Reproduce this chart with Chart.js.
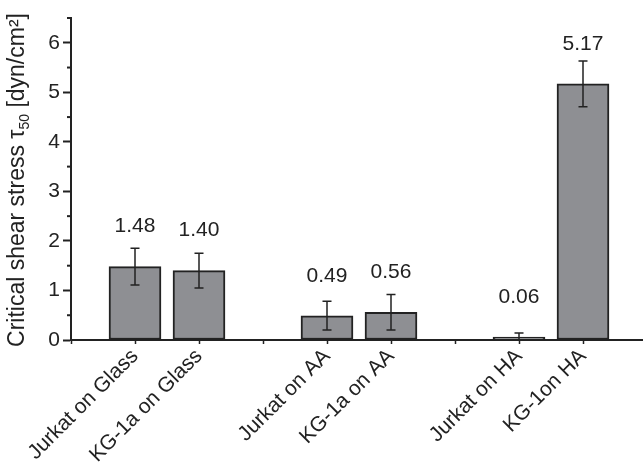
<!DOCTYPE html>
<html>
<head>
<meta charset="utf-8">
<script src="https://cdn.jsdelivr.net/npm/chart.js@4"></script>
<style>
  html, body { margin: 0; padding: 0; background: #fff; }
</style>
</head>
<body>
<canvas id="chart" width="643" height="466"></canvas>
<script>
// ---- data ----
const categories = ['Jurkat on Glass', 'KG-1a on Glass', 'Jurkat on AA', 'KG-1a on AA', 'Jurkat on HA', 'KG-1on HA'];
const groupOf = [0, 0, 1, 1, 2, 2];          // substrate group of each bar
const values = [1.48, 1.40, 0.49, 0.56, 0.06, 5.17];
const errors = [0.37, 0.35, 0.29, 0.36, 0.08, 0.46];
const valueLabels = ['1.48', '1.40', '0.49', '0.56', '0.06', '5.17'];
const yTicks = [0, 1, 2, 3, 4, 5, 6];
const yMinorTicks = [0.5, 1.5, 2.5, 3.5, 4.5, 5.5, 6.5];

const FONT = '"Liberation Sans", Arial, Helvetica, sans-serif';
const INK = '#222';

// each group takes 3 slots on the x axis: two bars and a gap
const slots = categories.map((c, i) => groupOf[i] * 3 + (i % 2) + 1);
const slotLabel = {};
slots.forEach((s, i) => { slotLabel[s] = categories[i]; });

/** ---------------- error bars + value labels ---------------- **/
const barExtras = {
  id: 'barExtras',
  afterDatasetsDraw(chart) {
    const { ctx, scales: { x, y } } = chart;
    ctx.save();
    ctx.strokeStyle = INK;
    ctx.lineWidth = 1.5;
    values.forEach((v, i) => {
      const px = x.getPixelForValue(slots[i]);
      const top = y.getPixelForValue(v + errors[i]);
      const bot = y.getPixelForValue(Math.max(0, v - errors[i]));
      ctx.beginPath();
      ctx.moveTo(px, top); ctx.lineTo(px, bot);
      ctx.moveTo(px - 4.5, top); ctx.lineTo(px + 4.5, top);
      if (v - errors[i] > 0) { ctx.moveTo(px - 4.5, bot); ctx.lineTo(px + 4.5, bot); }
      ctx.stroke();

      ctx.fillStyle = INK;
      ctx.font = '21px ' + FONT;
      ctx.textAlign = 'center';
      ctx.textBaseline = 'middle';
      ctx.fillText(valueLabels[i], px, y.getPixelForValue(v) - 40);
    });

    // minor ticks on the y axis
    ctx.lineWidth = 2;
    yMinorTicks.forEach((t) => {
      const py = y.getPixelForValue(t);
      ctx.beginPath();
      ctx.moveTo(x.left - 4, py); ctx.lineTo(x.left, py);
      ctx.stroke();
    });
    ctx.restore();
  }
};

/** ---------------- y axis title with subscript ---------------- **/
const yTitle = {
  id: 'yTitle',
  afterDraw(chart) {
    const { ctx } = chart;
    const parts = [
      { t: 'Critical shear stress \u03c4', size: 23, dy: 0 },
      { t: '50', size: 14, dy: 7 },
      { t: ' [dyn/cm\u00b2]', size: 23, dy: 0 }
    ];
    ctx.save();
    let total = 0;
    parts.forEach((p) => { ctx.font = p.size + 'px ' + FONT; p.w = ctx.measureText(p.t).width; total += p.w; });
    ctx.translate(18, 180);
    ctx.rotate(-Math.PI / 2);
    ctx.fillStyle = INK;
    ctx.textBaseline = 'middle';
    ctx.textAlign = 'left';
    let cx = -total / 2;
    parts.forEach((p) => {
      ctx.font = p.size + 'px ' + FONT;
      ctx.fillText(p.t, cx, p.dy);
      cx += p.w;
    });
    ctx.restore();
  }
};

new Chart(document.getElementById('chart'), {
  type: 'bar',
  data: {
    datasets: [{
      data: values.map((v, i) => ({ x: slots[i], y: v })),
      backgroundColor: '#8e8f93',
      borderColor: INK,
      borderWidth: 2,
      borderSkipped: false,
      barThickness: 52
    }]
  },
  options: {
    responsive: false,
    animation: false,
    layout: { padding: { top: 18, right: 0, left: 0, bottom: 0 } },
    plugins: { legend: { display: false }, tooltip: { enabled: false } },
    scales: {
      x: {
        type: 'linear',
        offset: false,
        min: 0,
        max: 8.9375,
        afterBuildTicks: (scale) => { scale.ticks = [0, 1, 2, 3, 4, 5, 6, 7, 8].map((v) => ({ value: v })); },
        afterFit: (scale) => { scale.height = 126; },
        ticks: {
          autoSkip: false,
          maxRotation: 45,
          minRotation: 45,
          padding: 0,
          color: INK,
          font: { family: FONT, size: 21 },
          callback: (v) => slotLabel[v] || ''
        },
        grid: { drawOnChartArea: false, offset: false, tickLength: 4, tickColor: INK, tickWidth: 1.5 },
        border: { color: INK, width: 2 }
      },
      y: {
        min: 0,
        max: 6.5,
        afterBuildTicks: (scale) => { scale.ticks = yTicks.map((v) => ({ value: v })); },
        afterFit: (scale) => { scale.width = 71; },
        ticks: { padding: 3, color: INK, font: { family: FONT, size: 21 } },
        grid: { drawOnChartArea: false, tickLength: 8, tickColor: INK, tickWidth: 2 },
        border: { color: INK, width: 2 }
      }
    }
  },
  plugins: [barExtras, yTitle]
});
</script>
</body>
</html>
